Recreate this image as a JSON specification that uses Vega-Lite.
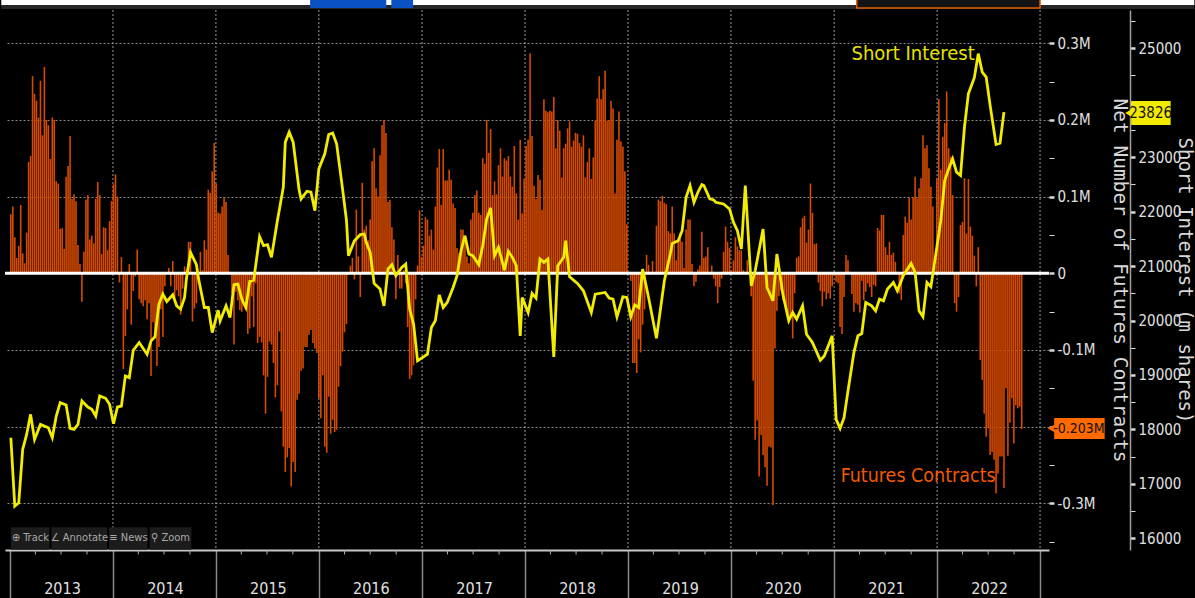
{
"$schema":"https://vega.github.io/schema/vega-lite/v6.json",
"width":1044,"height":540,
"autosize":{"type":"none"},
"padding":{"left":5,"top":10,"right":146,"bottom":48},
"background":"#000000",
"config":{"view":{"stroke":null},"font":"DejaVu Sans Condensed"},
"datasets":{
"fut":[{"d":"2013-01-04","f":0.077},{"d":"2013-01-11","f":0.087},{"d":"2013-01-18","f":0.047},{"d":"2013-01-25","f":0.02},{"d":"2013-02-01","f":0.036},{"d":"2013-02-08","f":0.089},{"d":"2013-02-15","f":0.026},{"d":"2013-02-22","f":0.013},{"d":"2013-03-01","f":0.053},{"d":"2013-03-08","f":0.145},{"d":"2013-03-15","f":0.153},{"d":"2013-03-22","f":0.257},{"d":"2013-03-29","f":0.234},{"d":"2013-04-05","f":0.225},{"d":"2013-04-12","f":0.203},{"d":"2013-04-19","f":0.251},{"d":"2013-04-26","f":0.18},{"d":"2013-05-03","f":0.269},{"d":"2013-05-10","f":0.2},{"d":"2013-05-17","f":0.193},{"d":"2013-05-24","f":0.149},{"d":"2013-05-31","f":0.203},{"d":"2013-06-07","f":0.2},{"d":"2013-06-14","f":0.12},{"d":"2013-06-21","f":0.117},{"d":"2013-06-28","f":0.058},{"d":"2013-07-05","f":0.059},{"d":"2013-07-12","f":0.032},{"d":"2013-07-19","f":0.126},{"d":"2013-07-26","f":0.14},{"d":"2013-08-02","f":0.179},{"d":"2013-08-09","f":0.097},{"d":"2013-08-16","f":0.103},{"d":"2013-08-23","f":0.094},{"d":"2013-08-30","f":0.037},{"d":"2013-09-06","f":0.012},{"d":"2013-09-13","f":-0.037},{"d":"2013-09-20","f":0.028},{"d":"2013-09-27","f":0.096},{"d":"2013-10-04","f":0.102},{"d":"2013-10-11","f":0.044},{"d":"2013-10-18","f":0.049},{"d":"2013-10-25","f":0.039},{"d":"2013-11-01","f":0.097},{"d":"2013-11-08","f":0.119},{"d":"2013-11-15","f":0.102},{"d":"2013-11-22","f":0.025},{"d":"2013-11-29","f":0.06},{"d":"2013-12-06","f":0.059},{"d":"2013-12-13","f":0.03},{"d":"2013-12-20","f":0.068},{"d":"2013-12-27","f":0.094},
{"d":"2014-01-03","f":0.116},{"d":"2014-01-10","f":0.129},{"d":"2014-01-17","f":0.1},{"d":"2014-01-24","f":-0.012},{"d":"2014-01-31","f":0.021},{"d":"2014-02-07","f":-0.125},{"d":"2014-02-14","f":-0.082},{"d":"2014-02-21","f":-0.047},{"d":"2014-02-28","f":0.012},{"d":"2014-03-07","f":-0.067},{"d":"2014-03-14","f":-0.023},{"d":"2014-03-21","f":-0.004},{"d":"2014-03-28","f":0.031},{"d":"2014-04-04","f":-0.034},{"d":"2014-04-11","f":-0.039},{"d":"2014-04-18","f":-0.043},{"d":"2014-04-25","f":-0.035},{"d":"2014-05-02","f":-0.06},{"d":"2014-05-09","f":-0.039},{"d":"2014-05-16","f":-0.134},{"d":"2014-05-23","f":-0.064},{"d":"2014-05-30","f":-0.078},{"d":"2014-06-06","f":-0.121},{"d":"2014-06-13","f":-0.096},{"d":"2014-06-20","f":-0.047},{"d":"2014-06-27","f":-0.083},{"d":"2014-07-04","f":-0.017},{"d":"2014-07-11","f":-0.001},{"d":"2014-07-18","f":0.007},{"d":"2014-07-25","f":-0.017},{"d":"2014-08-01","f":0.016},{"d":"2014-08-08","f":-0.033},{"d":"2014-08-15","f":-0.022},{"d":"2014-08-22","f":-0.03},{"d":"2014-08-29","f":-0.054},{"d":"2014-09-05","f":-0.02},{"d":"2014-09-12","f":0.009},{"d":"2014-09-19","f":0.005},{"d":"2014-09-26","f":0.041},{"d":"2014-10-03","f":0.041},{"d":"2014-10-10","f":-0.063},{"d":"2014-10-17","f":-0.046},{"d":"2014-10-24","f":-0.039},{"d":"2014-10-31","f":-0.013},{"d":"2014-11-07","f":0.028},{"d":"2014-11-14","f":0.004},{"d":"2014-11-21","f":0.043},{"d":"2014-11-28","f":0.031},{"d":"2014-12-05","f":0.109},{"d":"2014-12-12","f":0.105},{"d":"2014-12-19","f":0.133},{"d":"2014-12-26","f":0.17},
{"d":"2015-01-02","f":0.117},{"d":"2015-01-09","f":0.079},{"d":"2015-01-16","f":0.078},{"d":"2015-01-23","f":0.087},{"d":"2015-01-30","f":0.099},{"d":"2015-02-06","f":0.093},{"d":"2015-02-13","f":0.024},{"d":"2015-02-20","f":0.002},{"d":"2015-02-27","f":-0.026},{"d":"2015-03-06","f":-0.093},{"d":"2015-03-13","f":-0.024},{"d":"2015-03-20","f":-0.035},{"d":"2015-03-27","f":-0.048},{"d":"2015-04-03","f":-0.05},{"d":"2015-04-10","f":-0.035},{"d":"2015-04-17","f":-0.044},{"d":"2015-04-24","f":-0.079},{"d":"2015-05-01","f":-0.072},{"d":"2015-05-08","f":-0.03},{"d":"2015-05-15","f":-0.07},{"d":"2015-05-22","f":-0.013},{"d":"2015-05-29","f":-0.091},{"d":"2015-06-05","f":-0.083},{"d":"2015-06-12","f":-0.09},{"d":"2015-06-19","f":-0.133},{"d":"2015-06-26","f":-0.183},{"d":"2015-07-03","f":-0.135},{"d":"2015-07-10","f":-0.089},{"d":"2015-07-17","f":-0.093},{"d":"2015-07-24","f":-0.117},{"d":"2015-07-31","f":-0.162},{"d":"2015-08-07","f":-0.146},{"d":"2015-08-14","f":-0.076},{"d":"2015-08-21","f":-0.18},{"d":"2015-08-28","f":-0.226},{"d":"2015-09-04","f":-0.259},{"d":"2015-09-11","f":-0.24},{"d":"2015-09-18","f":-0.228},{"d":"2015-09-25","f":-0.278},{"d":"2015-10-02","f":-0.246},{"d":"2015-10-09","f":-0.259},{"d":"2015-10-16","f":-0.165},{"d":"2015-10-23","f":-0.157},{"d":"2015-10-30","f":-0.127},{"d":"2015-11-06","f":-0.124},{"d":"2015-11-13","f":-0.096},{"d":"2015-11-20","f":-0.096},{"d":"2015-11-27","f":-0.08},{"d":"2015-12-04","f":-0.074},{"d":"2015-12-11","f":-0.091},{"d":"2015-12-18","f":-0.098},{"d":"2015-12-25","f":-0.104},
{"d":"2016-01-01","f":-0.163},{"d":"2016-01-08","f":-0.189},{"d":"2016-01-15","f":-0.133},{"d":"2016-01-22","f":-0.226},{"d":"2016-01-29","f":-0.234},{"d":"2016-02-05","f":-0.161},{"d":"2016-02-12","f":-0.209},{"d":"2016-02-19","f":-0.191},{"d":"2016-02-26","f":-0.207},{"d":"2016-03-04","f":-0.204},{"d":"2016-03-11","f":-0.148},{"d":"2016-03-18","f":-0.121},{"d":"2016-03-25","f":-0.102},{"d":"2016-04-01","f":-0.077},{"d":"2016-04-08","f":-0.066},{"d":"2016-04-15","f":-0.002},{"d":"2016-04-22","f":0.01},{"d":"2016-04-29","f":0.02},{"d":"2016-05-06","f":-0.008},{"d":"2016-05-13","f":0.083},{"d":"2016-05-20","f":0.022},{"d":"2016-05-27","f":-0.031},{"d":"2016-06-03","f":0.118},{"d":"2016-06-10","f":0.057},{"d":"2016-06-17","f":0.062},{"d":"2016-06-24","f":0.043},{"d":"2016-07-01","f":0.07},{"d":"2016-07-08","f":0.146},{"d":"2016-07-15","f":0.163},{"d":"2016-07-22","f":0.111},{"d":"2016-07-29","f":0.1},{"d":"2016-08-05","f":0.154},{"d":"2016-08-12","f":0.193},{"d":"2016-08-19","f":0.2},{"d":"2016-08-26","f":0.183},{"d":"2016-09-02","f":0.093},{"d":"2016-09-09","f":0.096},{"d":"2016-09-16","f":0.06},{"d":"2016-09-23","f":0.044},{"d":"2016-09-30","f":-0.034},{"d":"2016-10-07","f":0.024},{"d":"2016-10-14","f":-0.02},{"d":"2016-10-21","f":-0.02},{"d":"2016-10-28","f":0.004},{"d":"2016-11-04","f":-0.013},{"d":"2016-11-11","f":-0.07},{"d":"2016-11-18","f":-0.138},{"d":"2016-11-25","f":-0.133},{"d":"2016-12-02","f":-0.12},{"d":"2016-12-09","f":-0.034},{"d":"2016-12-16","f":0.01},{"d":"2016-12-23","f":0.082},{"d":"2016-12-30","f":0.021},
{"d":"2017-01-06","f":0.036},{"d":"2017-01-13","f":0.073},{"d":"2017-01-20","f":0.07},{"d":"2017-01-27","f":0.049},{"d":"2017-02-03","f":0.057},{"d":"2017-02-10","f":0.031},{"d":"2017-02-17","f":0.087},{"d":"2017-02-24","f":0.138},{"d":"2017-03-03","f":0.162},{"d":"2017-03-10","f":0.089},{"d":"2017-03-17","f":0.162},{"d":"2017-03-24","f":0.121},{"d":"2017-03-31","f":0.121},{"d":"2017-04-07","f":0.135},{"d":"2017-04-14","f":0.122},{"d":"2017-04-21","f":0.091},{"d":"2017-04-28","f":0.085},{"d":"2017-05-05","f":0.033},{"d":"2017-05-12","f":0.026},{"d":"2017-05-19","f":0.057},{"d":"2017-05-26","f":0.057},{"d":"2017-06-02","f":0.04},{"d":"2017-06-09","f":0.022},{"d":"2017-06-16","f":0.013},{"d":"2017-06-23","f":0.07},{"d":"2017-06-30","f":0.079},{"d":"2017-07-07","f":0.102},{"d":"2017-07-14","f":0.108},{"d":"2017-07-21","f":0.079},{"d":"2017-07-28","f":0.076},{"d":"2017-08-04","f":0.15},{"d":"2017-08-11","f":0.143},{"d":"2017-08-18","f":0.2},{"d":"2017-08-25","f":0.157},{"d":"2017-09-01","f":0.188},{"d":"2017-09-08","f":0.102},{"d":"2017-09-15","f":0.12},{"d":"2017-09-22","f":0.103},{"d":"2017-09-29","f":0.141},{"d":"2017-10-06","f":0.163},{"d":"2017-10-13","f":0.126},{"d":"2017-10-20","f":0.15},{"d":"2017-10-27","f":0.147},{"d":"2017-11-03","f":0.153},{"d":"2017-11-10","f":0.126},{"d":"2017-11-17","f":0.113},{"d":"2017-11-24","f":0.166},{"d":"2017-12-01","f":0.104},{"d":"2017-12-08","f":0.07},{"d":"2017-12-15","f":0.174},{"d":"2017-12-22","f":0.078},{"d":"2017-12-29","f":0.123},
{"d":"2018-01-05","f":0.166},{"d":"2018-01-12","f":0.174},{"d":"2018-01-19","f":0.287},{"d":"2018-01-26","f":0.179},{"d":"2018-02-02","f":0.114},{"d":"2018-02-09","f":0.097},{"d":"2018-02-16","f":0.128},{"d":"2018-02-23","f":0.122},{"d":"2018-03-02","f":0.083},{"d":"2018-03-09","f":0.227},{"d":"2018-03-16","f":0.212},{"d":"2018-03-23","f":0.21},{"d":"2018-03-30","f":0.212},{"d":"2018-04-06","f":0.211},{"d":"2018-04-13","f":0.23},{"d":"2018-04-20","f":0.163},{"d":"2018-04-27","f":0.2},{"d":"2018-05-04","f":0.186},{"d":"2018-05-11","f":0.125},{"d":"2018-05-18","f":0.163},{"d":"2018-05-25","f":0.169},{"d":"2018-06-01","f":0.189},{"d":"2018-06-08","f":0.198},{"d":"2018-06-15","f":0.165},{"d":"2018-06-22","f":0.173},{"d":"2018-06-29","f":0.183},{"d":"2018-07-06","f":0.182},{"d":"2018-07-13","f":0.17},{"d":"2018-07-20","f":0.165},{"d":"2018-07-27","f":0.18},{"d":"2018-08-03","f":0.125},{"d":"2018-08-10","f":0.145},{"d":"2018-08-17","f":0.163},{"d":"2018-08-24","f":0.123},{"d":"2018-08-31","f":0.151},{"d":"2018-09-07","f":0.199},{"d":"2018-09-14","f":0.228},{"d":"2018-09-21","f":0.257},{"d":"2018-09-28","f":0.227},{"d":"2018-10-05","f":0.24},{"d":"2018-10-12","f":0.264},{"d":"2018-10-19","f":0.199},{"d":"2018-10-26","f":0.2},{"d":"2018-11-02","f":0.225},{"d":"2018-11-09","f":0.215},{"d":"2018-11-16","f":0.104},{"d":"2018-11-23","f":0.174},{"d":"2018-11-30","f":0.211},{"d":"2018-12-07","f":0.172},{"d":"2018-12-14","f":0.165},{"d":"2018-12-21","f":0.133},{"d":"2018-12-28","f":0.064},
{"d":"2019-01-04","f":0.002},{"d":"2019-01-11","f":-0.01},{"d":"2019-01-18","f":-0.117},{"d":"2019-01-25","f":-0.117},{"d":"2019-02-01","f":-0.13},{"d":"2019-02-08","f":-0.086},{"d":"2019-02-15","f":-0.103},{"d":"2019-02-22","f":-0.067},{"d":"2019-03-01","f":-0.047},{"d":"2019-03-08","f":0.024},{"d":"2019-03-15","f":0.011},{"d":"2019-03-22","f":0.002},{"d":"2019-03-29","f":0.016},{"d":"2019-04-05","f":0.002},{"d":"2019-04-12","f":0.062},{"d":"2019-04-19","f":0.096},{"d":"2019-04-26","f":0.094},{"d":"2019-05-03","f":0.101},{"d":"2019-05-10","f":0.092},{"d":"2019-05-17","f":0.09},{"d":"2019-05-24","f":0.055},{"d":"2019-05-31","f":0.052},{"d":"2019-06-07","f":0.087},{"d":"2019-06-14","f":0.052},{"d":"2019-06-21","f":0.017},{"d":"2019-06-28","f":0.043},{"d":"2019-07-05","f":0.053},{"d":"2019-07-12","f":0.041},{"d":"2019-07-19","f":0.007},{"d":"2019-07-26","f":0.057},{"d":"2019-08-02","f":0.07},{"d":"2019-08-09","f":0.07},{"d":"2019-08-16","f":0.012},{"d":"2019-08-23","f":-0.017},{"d":"2019-08-30","f":-0.011},{"d":"2019-09-06","f":0.005},{"d":"2019-09-13","f":0.01},{"d":"2019-09-20","f":0.054},{"d":"2019-09-27","f":0.02},{"d":"2019-10-04","f":0.022},{"d":"2019-10-11","f":0.034},{"d":"2019-10-18","f":0.002},{"d":"2019-10-25","f":0.01},{"d":"2019-11-01","f":-0.007},{"d":"2019-11-08","f":-0.017},{"d":"2019-11-15","f":-0.039},{"d":"2019-11-22","f":-0.018},{"d":"2019-11-29","f":-0.007},{"d":"2019-12-06","f":0.028},{"d":"2019-12-13","f":0.061},{"d":"2019-12-20","f":0.041},{"d":"2019-12-27","f":0.033},
{"d":"2020-01-03","f":0.004},{"d":"2020-01-10","f":0.017},{"d":"2020-01-17","f":0.047},{"d":"2020-01-24","f":0.035},{"d":"2020-01-31","f":0.03},{"d":"2020-02-07","f":0.03},{"d":"2020-02-14","f":0.004},{"d":"2020-02-21","f":0.002},{"d":"2020-02-28","f":0.017},{"d":"2020-03-06","f":0.002},{"d":"2020-03-13","f":-0.03},{"d":"2020-03-20","f":-0.14},{"d":"2020-03-27","f":-0.217},{"d":"2020-04-03","f":-0.192},{"d":"2020-04-10","f":-0.265},{"d":"2020-04-17","f":-0.211},{"d":"2020-04-24","f":-0.237},{"d":"2020-05-01","f":-0.253},{"d":"2020-05-08","f":-0.277},{"d":"2020-05-15","f":-0.226},{"d":"2020-05-22","f":-0.227},{"d":"2020-05-29","f":-0.302},{"d":"2020-06-05","f":-0.098},{"d":"2020-06-12","f":-0.049},{"d":"2020-06-19","f":-0.03},{"d":"2020-06-26","f":-0.022},{"d":"2020-07-03","f":-0.035},{"d":"2020-07-10","f":-0.039},{"d":"2020-07-17","f":-0.052},{"d":"2020-07-24","f":-0.065},{"d":"2020-07-31","f":-0.057},{"d":"2020-08-07","f":-0.085},{"d":"2020-08-14","f":-0.026},{"d":"2020-08-21","f":0.02},{"d":"2020-08-28","f":0.022},{"d":"2020-09-04","f":0.06},{"d":"2020-09-11","f":0.072},{"d":"2020-09-18","f":0.075},{"d":"2020-09-25","f":0.04},{"d":"2020-10-02","f":0.057},{"d":"2020-10-09","f":0.117},{"d":"2020-10-16","f":0.079},{"d":"2020-10-23","f":0.038},{"d":"2020-10-30","f":0.039},{"d":"2020-11-06","f":-0.012},{"d":"2020-11-13","f":-0.023},{"d":"2020-11-20","f":-0.043},{"d":"2020-11-27","f":-0.024},{"d":"2020-12-04","f":-0.034},{"d":"2020-12-11","f":-0.026},{"d":"2020-12-18","f":-0.033},{"d":"2020-12-25","f":-0.017},
{"d":"2021-01-01","f":-0.003},{"d":"2021-01-08","f":-0.011},{"d":"2021-01-15","f":-0.013},{"d":"2021-01-22","f":-0.07},{"d":"2021-01-29","f":-0.079},{"d":"2021-02-05","f":-0.031},{"d":"2021-02-12","f":0.024},{"d":"2021-02-19","f":0.017},{"d":"2021-02-26","f":0.002},{"d":"2021-03-05","f":-0.027},{"d":"2021-03-12","f":-0.05},{"d":"2021-03-19","f":-0.039},{"d":"2021-03-26","f":-0.041},{"d":"2021-04-02","f":-0.051},{"d":"2021-04-09","f":-0.01},{"d":"2021-04-16","f":-0.035},{"d":"2021-04-23","f":-0.024},{"d":"2021-04-30","f":-0.013},{"d":"2021-05-07","f":-0.018},{"d":"2021-05-14","f":-0.031},{"d":"2021-05-21","f":-0.015},{"d":"2021-05-28","f":-0.017},{"d":"2021-06-04","f":0.059},{"d":"2021-06-11","f":0.056},{"d":"2021-06-18","f":0.076},{"d":"2021-06-25","f":0.076},{"d":"2021-07-02","f":0.034},{"d":"2021-07-09","f":0.024},{"d":"2021-07-16","f":0.041},{"d":"2021-07-23","f":0.024},{"d":"2021-07-30","f":0.027},{"d":"2021-08-06","f":0.015},{"d":"2021-08-13","f":0.002},{"d":"2021-08-20","f":-0.026},{"d":"2021-08-27","f":-0.035},{"d":"2021-09-03","f":0.05},{"d":"2021-09-10","f":0.074},{"d":"2021-09-17","f":0.066},{"d":"2021-09-24","f":0.099},{"d":"2021-10-01","f":0.07},{"d":"2021-10-08","f":0.099},{"d":"2021-10-15","f":0.126},{"d":"2021-10-22","f":0.098},{"d":"2021-10-29","f":0.111},{"d":"2021-11-05","f":0.124},{"d":"2021-11-12","f":0.18},{"d":"2021-11-19","f":0.163},{"d":"2021-11-26","f":0.167},{"d":"2021-12-03","f":0.137},{"d":"2021-12-10","f":0.113},{"d":"2021-12-17","f":0.087},{"d":"2021-12-24","f":0.01},{"d":"2021-12-31","f":0.124},
{"d":"2022-01-07","f":0.227},{"d":"2022-01-14","f":0.135},{"d":"2022-01-21","f":0.178},{"d":"2022-01-28","f":0.196},{"d":"2022-02-04","f":0.237},{"d":"2022-02-11","f":0.163},{"d":"2022-02-18","f":0.152},{"d":"2022-02-25","f":0.102},{"d":"2022-03-04","f":-0.039},{"d":"2022-03-11","f":-0.05},{"d":"2022-03-18","f":-0.031},{"d":"2022-03-25","f":0.063},{"d":"2022-04-01","f":0.067},{"d":"2022-04-08","f":0.124},{"d":"2022-04-15","f":0.052},{"d":"2022-04-22","f":0.123},{"d":"2022-04-29","f":0.061},{"d":"2022-05-06","f":0.049},{"d":"2022-05-13","f":0.023},{"d":"2022-05-20","f":-0.017},{"d":"2022-05-27","f":0.034},{"d":"2022-06-03","f":-0.113},{"d":"2022-06-10","f":-0.139},{"d":"2022-06-17","f":-0.183},{"d":"2022-06-24","f":-0.213},{"d":"2022-07-01","f":-0.202},{"d":"2022-07-08","f":-0.237},{"d":"2022-07-15","f":-0.233},{"d":"2022-07-22","f":-0.243},{"d":"2022-07-29","f":-0.287},{"d":"2022-08-05","f":-0.261},{"d":"2022-08-12","f":-0.239},{"d":"2022-08-19","f":-0.239},{"d":"2022-08-26","f":-0.28},{"d":"2022-09-02","f":-0.15},{"d":"2022-09-09","f":-0.238},{"d":"2022-09-16","f":-0.195},{"d":"2022-09-23","f":-0.163},{"d":"2022-09-30","f":-0.222},{"d":"2022-10-07","f":-0.172},{"d":"2022-10-14","f":-0.176},{"d":"2022-10-21","f":-0.174},{"d":"2022-10-28","f":-0.203}],
"si":[{"d":"2013-01-04","s":17847},{"d":"2013-01-18","s":16589},{"d":"2013-02-01","s":16650},{"d":"2013-02-15","s":17632},{"d":"2013-03-01","s":17908},{"d":"2013-03-15","s":18276},{"d":"2013-03-29","s":17816},{"d":"2013-04-19","s":18092},{"d":"2013-05-17","s":18031},{"d":"2013-05-31","s":17847},{"d":"2013-06-14","s":18245},{"d":"2013-06-28","s":18491},{"d":"2013-07-19","s":18448},{"d":"2013-08-02","s":18018},{"d":"2013-08-16","s":18000},{"d":"2013-08-30","s":18092},{"d":"2013-09-13","s":18521},{"d":"2013-10-04","s":18411},{"d":"2013-10-18","s":18368},{"d":"2013-11-01","s":18245},{"d":"2013-11-15","s":18613},{"d":"2013-12-06","s":18571},{"d":"2013-12-20","s":18460},{"d":"2014-01-03","s":18104},{"d":"2014-01-17","s":18411},{"d":"2014-01-31","s":18429},{"d":"2014-02-14","s":18982},{"d":"2014-02-28","s":18951},{"d":"2014-03-14","s":19454},{"d":"2014-04-04","s":19595},{"d":"2014-05-02","s":19380},{"d":"2014-05-16","s":19626},{"d":"2014-05-30","s":19700},{"d":"2014-06-13","s":20301},{"d":"2014-06-27","s":20485},{"d":"2014-07-11","s":20350},{"d":"2014-08-01","s":20472},{"d":"2014-08-15","s":20270},{"d":"2014-08-29","s":20209},{"d":"2014-09-12","s":20423},{"d":"2014-09-19","s":20791},{"d":"2014-10-03","s":21252},{"d":"2014-10-24","s":21025},{"d":"2014-10-31","s":20779},{"d":"2014-11-21","s":20239},{"d":"2014-12-05","s":20239},{"d":"2014-12-19","s":19779},{"d":"2015-01-09","s":20190},{"d":"2015-01-16","s":19994},{"d":"2015-02-06","s":20270},{"d":"2015-02-20","s":20055},{"d":"2015-03-06","s":20656},{"d":"2015-03-20","s":20669},{"d":"2015-04-03","s":20393},{"d":"2015-04-17","s":20239},{"d":"2015-05-01","s":20718},{"d":"2015-05-15","s":20742},{"d":"2015-06-05","s":21540},{"d":"2015-06-19","s":21374},{"d":"2015-07-03","s":21393},{"d":"2015-07-17","s":21160},{"d":"2015-08-07","s":21834},{"d":"2015-08-28","s":22448},{"d":"2015-09-04","s":23276},{"d":"2015-09-18","s":23460},{"d":"2015-10-02","s":23276},{"d":"2015-10-23","s":22399},{"d":"2015-10-30","s":22233},{"d":"2015-11-20","s":22374},{"d":"2015-12-04","s":22356},{"d":"2015-12-18","s":22018},{"d":"2016-01-01","s":22785},{"d":"2016-01-22","s":23061},{"d":"2016-02-05","s":23417},{"d":"2016-02-19","s":23442},{"d":"2016-03-04","s":23245},{"d":"2016-03-25","s":22417},{"d":"2016-04-08","s":21834},{"d":"2016-04-15","s":21190},{"d":"2016-05-06","s":21466},{"d":"2016-05-27","s":21577},{"d":"2016-06-10","s":21589},{"d":"2016-06-17","s":21436},{"d":"2016-07-01","s":21252},{"d":"2016-07-15","s":20681},{"d":"2016-08-05","s":20577},{"d":"2016-08-19","s":20270},{"d":"2016-09-02","s":20945},{"d":"2016-09-16","s":21025},{"d":"2016-09-30","s":20822},{"d":"2016-10-21","s":20975},{"d":"2016-11-04","s":21037},{"d":"2016-11-18","s":20209},{"d":"2016-12-02","s":19933},{"d":"2016-12-16","s":19258},{"d":"2017-01-20","s":19380},{"d":"2017-02-03","s":19871},{"d":"2017-02-17","s":19994},{"d":"2017-03-03","s":20472},{"d":"2017-03-17","s":20239},{"d":"2017-03-31","s":20331},{"d":"2017-04-21","s":20607},{"d":"2017-05-05","s":20822},{"d":"2017-05-19","s":21282},{"d":"2017-06-02","s":21558},{"d":"2017-06-16","s":21221},{"d":"2017-06-30","s":21190},{"d":"2017-07-21","s":21025},{"d":"2017-08-04","s":21374},{"d":"2017-08-18","s":21865},{"d":"2017-09-01","s":22067},{"d":"2017-09-15","s":21190},{"d":"2017-09-29","s":21344},{"d":"2017-10-20","s":20926},{"d":"2017-11-03","s":21270},{"d":"2017-11-17","s":21160},{"d":"2017-12-01","s":21006},{"d":"2017-12-15","s":19718},{"d":"2017-12-22","s":20423},{"d":"2018-01-12","s":20147},{"d":"2018-01-26","s":20497},{"d":"2018-02-09","s":20411},{"d":"2018-02-23","s":21129},{"d":"2018-03-09","s":21067},{"d":"2018-03-23","s":21129},{"d":"2018-04-13","s":19331},{"d":"2018-04-27","s":21006},{"d":"2018-05-18","s":21160},{"d":"2018-05-25","s":21466},{"d":"2018-06-08","s":20804},{"d":"2018-07-06","s":20681},{"d":"2018-07-27","s":20546},{"d":"2018-08-24","s":20147},{"d":"2018-09-07","s":20485},{"d":"2018-10-12","s":20515},{"d":"2018-10-26","s":20411},{"d":"2018-11-09","s":20393},{"d":"2018-11-23","s":20067},{"d":"2018-12-14","s":20436},{"d":"2018-12-28","s":20423},{"d":"2019-01-11","s":20067},{"d":"2019-01-25","s":20288},{"d":"2019-02-08","s":20239},{"d":"2019-02-22","s":20945},{"d":"2019-03-15","s":20423},{"d":"2019-04-12","s":19675},{"d":"2019-05-10","s":20730},{"d":"2019-05-31","s":21221},{"d":"2019-06-07","s":21417},{"d":"2019-06-28","s":21466},{"d":"2019-07-12","s":21650},{"d":"2019-07-26","s":22264},{"d":"2019-08-09","s":22479},{"d":"2019-08-23","s":22172},{"d":"2019-09-06","s":22356},{"d":"2019-09-20","s":22497},{"d":"2019-09-27","s":22479},{"d":"2019-10-18","s":22233},{"d":"2019-11-01","s":22215},{"d":"2019-11-08","s":22172},{"d":"2019-12-06","s":22141},{"d":"2019-12-27","s":22049},{"d":"2020-01-10","s":21804},{"d":"2020-01-24","s":21650},{"d":"2020-02-07","s":21313},{"d":"2020-02-21","s":22479},{"d":"2020-03-13","s":20638},{"d":"2020-03-27","s":20914},{"d":"2020-04-24","s":21681},{"d":"2020-05-08","s":20607},{"d":"2020-05-29","s":20362},{"d":"2020-06-12","s":21221},{"d":"2020-07-03","s":20485},{"d":"2020-07-24","s":19994},{"d":"2020-08-07","s":20147},{"d":"2020-08-21","s":20025},{"d":"2020-09-11","s":20270},{"d":"2020-09-25","s":19748},{"d":"2020-10-16","s":19595},{"d":"2020-11-13","s":19270},{"d":"2020-11-27","s":19350},{"d":"2020-12-25","s":19718},{"d":"2021-01-08","s":18184},{"d":"2021-01-22","s":18018},{"d":"2021-02-05","s":18215},{"d":"2021-02-19","s":18706},{"d":"2021-03-12","s":19411},{"d":"2021-03-26","s":19718},{"d":"2021-04-09","s":19761},{"d":"2021-04-23","s":20331},{"d":"2021-05-14","s":20270},{"d":"2021-05-28","s":20178},{"d":"2021-06-11","s":20393},{"d":"2021-06-25","s":20362},{"d":"2021-07-09","s":20577},{"d":"2021-07-30","s":20699},{"d":"2021-08-13","s":20546},{"d":"2021-09-03","s":20822},{"d":"2021-10-01","s":21049},{"d":"2021-10-15","s":20883},{"d":"2021-10-29","s":20178},{"d":"2021-11-12","s":20067},{"d":"2021-11-26","s":20699},{"d":"2021-12-10","s":20620},{"d":"2021-12-24","s":21098},{"d":"2022-01-14","s":21834},{"d":"2022-01-28","s":22571},{"d":"2022-02-11","s":22785},{"d":"2022-02-25","s":22969},{"d":"2022-03-11","s":22724},{"d":"2022-03-25","s":22663},{"d":"2022-04-08","s":23552},{"d":"2022-04-22","s":24166},{"d":"2022-05-13","s":24460},{"d":"2022-05-27","s":24902},{"d":"2022-06-10","s":24564},{"d":"2022-06-24","s":24472},{"d":"2022-07-08","s":23951},{"d":"2022-07-29","s":23233},{"d":"2022-08-12","s":23258},{"d":"2022-08-26","s":23826}],
"qtr":[{"d":"2013-04-01"},{"d":"2013-07-01"},{"d":"2013-10-01"},{"d":"2014-04-01"},{"d":"2014-07-01"},{"d":"2014-10-01"},{"d":"2015-04-01"},{"d":"2015-07-01"},{"d":"2015-10-01"},{"d":"2016-04-01"},{"d":"2016-07-01"},{"d":"2016-10-01"},{"d":"2017-04-01"},{"d":"2017-07-01"},{"d":"2017-10-01"},{"d":"2018-04-01"},{"d":"2018-07-01"},{"d":"2018-10-01"},{"d":"2019-04-01"},{"d":"2019-07-01"},{"d":"2019-10-01"},{"d":"2020-04-01"},{"d":"2020-07-01"},{"d":"2020-10-01"},{"d":"2021-04-01"},{"d":"2021-07-01"},{"d":"2021-10-01"},{"d":"2022-04-01"},{"d":"2022-07-01"},{"d":"2022-10-01"}],
"yrs":[{"d":"2014-01-01"},{"d":"2015-01-01"},{"d":"2016-01-01"},{"d":"2017-01-01"},{"d":"2018-01-01"},{"d":"2019-01-01"},{"d":"2020-01-01"},{"d":"2021-01-01"},{"d":"2022-01-01"},{"d":"2023-01-01"}]
},
"layer":[
 {"data":{"values":[{"a":"2012-12-01","b":"2024-07-01","f1":0.3498,"f2":0.37}]},"mark":{"type":"rect","color":"#ffffff"},
  "encoding":{"x":{"field":"a","type":"temporal","scale":{"type":"utc","domain":[{"year":2013,"month":1,"date":1,"utc":true},{"year":2023,"month":1,"date":15,"utc":true}]}},"x2":{"field":"b"},
  "y":{"field":"f1","type":"quantitative","scale":{"domain":[-0.3608,0.3433],"nice":false,"zero":false},"axis":null},"y2":{"field":"f2"}}},
 {"data":{"values":[{"a":"2012-12-01","b":"2024-07-01","f1":0.3446,"f2":0.3498}]},"mark":{"type":"rect","color":"#262626"},
  "encoding":{"x":{"field":"a","type":"temporal","scale":{"type":"utc","domain":[{"year":2013,"month":1,"date":1,"utc":true},{"year":2023,"month":1,"date":15,"utc":true}]}},"x2":{"field":"b"},
  "y":{"field":"f1","type":"quantitative","scale":{"domain":[-0.3608,0.3433],"nice":false,"zero":false},"axis":null},"y2":{"field":"f2"}}},
 {"data":{"values":[{"a":"2015-12-01","b":"2016-08-27","f1":0.3459,"f2":0.37},{"a":"2016-09-14","b":"2016-11-30","f1":0.3459,"f2":0.37}]},"mark":{"type":"rect","color":"#0a52c4"},
  "encoding":{"x":{"field":"a","type":"temporal","scale":{"type":"utc","domain":[{"year":2013,"month":1,"date":1,"utc":true},{"year":2023,"month":1,"date":15,"utc":true}]}},"x2":{"field":"b"},
  "y":{"field":"f1","type":"quantitative","scale":{"domain":[-0.3608,0.3433],"nice":false,"zero":false},"axis":null},"y2":{"field":"f2"}}},
 {"data":{"values":[{"a":"2021-03-22","b":"2023-01-01","f1":0.3459,"f2":0.372}]},"mark":{"type":"rect","fill":"#141414","stroke":"#e06000","strokeWidth":1.5},
  "encoding":{"x":{"field":"a","type":"temporal","scale":{"type":"utc","domain":[{"year":2013,"month":1,"date":1,"utc":true},{"year":2023,"month":1,"date":15,"utc":true}]}},"x2":{"field":"b"},
  "y":{"field":"f1","type":"quantitative","scale":{"domain":[-0.3608,0.3433],"nice":false,"zero":false},"axis":null},"y2":{"field":"f2"}}},
 {"data":{"name":"yrs"},"mark":{"type":"rule","color":"#9a9a9a","strokeWidth":1,"strokeDash":[2,2]},
  "encoding":{"x":{"field":"d","type":"temporal","scale":{"type":"utc","domain":[{"year":2013,"month":1,"date":1,"utc":true},{"year":2023,"month":1,"date":15,"utc":true}]}}}},
 {"data":{"name":"fut"},"mark":{"type":"bar","size":1.6,"color":"#d64a00"},
  "encoding":{
   "x":{"field":"d","type":"temporal","scale":{"type":"utc","domain":[{"year":2013,"month":1,"date":1,"utc":true},{"year":2023,"month":1,"date":15,"utc":true}]},
    "axis":{"orient":"bottom","values":[{"year":2013,"month":1,"date":1,"utc":true},{"year":2014,"month":1,"date":1,"utc":true},{"year":2015,"month":1,"date":1,"utc":true},{"year":2016,"month":1,"date":1,"utc":true},{"year":2017,"month":1,"date":1,"utc":true},{"year":2018,"month":1,"date":1,"utc":true},{"year":2019,"month":1,"date":1,"utc":true},{"year":2020,"month":1,"date":1,"utc":true},{"year":2021,"month":1,"date":1,"utc":true},{"year":2022,"month":1,"date":1,"utc":true},{"year":2023,"month":1,"date":1,"utc":true}],
     "format":"%Y","labelExpr":"datum.label == '2023' ? '' : datum.label","labelOffset":52,"labelPadding":-10,"labelFontSize":16,"labelColor":"#e0e0e0","labelFont":"DejaVu Sans Condensed","labelBaseline":"middle","labelAlign":"center","labelFlush":false,"labelOverlap":false,"labelBound":false,
     "tickSize":48,"tickColor":"#8a8a8a","tickWidth":1.5,"domain":true,"domainColor":"#c8c8c8","domainWidth":2,"grid":false,"title":null}},
   "y":{"field":"f","type":"quantitative","scale":{"domain":[-0.3608,0.3433],"nice":false,"zero":false},
    "axis":{"orient":"right","values":[-0.35,-0.3,-0.25,-0.2,-0.15,-0.1,-0.05,0,0.05,0.1,0.15,0.2,0.25,0.3],
     "labelExpr":"round(datum.value*20) % 2 != 0 || round(datum.value*10) == -2 ? '' : (datum.value == 0 ? '0' : datum.value + 'M')",
     "labelFontSize":15,"labelColor":"#e0e0e0","labelFont":"DejaVu Sans Condensed","labelPadding":3,"labelBaseline":"middle","labelOverlap":false,"labelBound":false,"labelFlush":false,
     "tickSize":5,"tickColor":"#d8d8d8","tickWidth":{"condition":{"test":"round(datum.value*20) % 2 == 0","value":2.5},"value":1},
     "domain":false,"grid":true,"gridColor":"#8a8a8a","gridDash":[2,2],"gridOpacity":{"condition":{"test":"round(datum.value*20) % 2 == 0 && datum.value != 0","value":1},"value":0},
     "title":"Net Number of Futures Contracts","titleFont":"DejaVu Sans Mono","titleFontSize":19.5,"titleFontWeight":"normal","titleColor":"#d8d8d8","titleAngle":90,"titleX":70.5,"titleY":270,"titleAlign":"center","titleBaseline":"middle"}},
   "y2":{"datum":0}}},
 {"data":{"values":[{"f":0}]},"mark":{"type":"rule","color":"#ffffff","strokeWidth":3},
  "encoding":{"y":{"field":"f","type":"quantitative","scale":{"domain":[-0.3608,0.3433],"nice":false,"zero":false},"axis":null}}},
 {"data":{"name":"qtr"},"mark":{"type":"rule","color":"#b0b0b0","strokeWidth":1},
  "encoding":{"x":{"field":"d","type":"temporal","scale":{"type":"utc","domain":[{"year":2013,"month":1,"date":1,"utc":true},{"year":2023,"month":1,"date":15,"utc":true}]}},
  "y":{"datum":-0.3608,"type":"quantitative","scale":{"domain":[-0.3608,0.3433],"nice":false,"zero":false},"axis":null},"y2":{"datum":-0.3666}}},
 {"data":{"values":[{"a":"2013-01-04","b":"2013-05-21","f1":-0.331,"f2":-0.3605},{"a":"2013-05-28","b":"2013-12-11","f1":-0.331,"f2":-0.3605},{"a":"2013-12-18","b":"2014-05-04","f1":-0.331,"f2":-0.3605},{"a":"2014-05-11","b":"2014-10-06","f1":-0.331,"f2":-0.3605}]},"mark":{"type":"rect","color":"#1c1c1c"},
  "encoding":{"x":{"field":"a","type":"temporal","scale":{"type":"utc","domain":[{"year":2013,"month":1,"date":1,"utc":true},{"year":2023,"month":1,"date":15,"utc":true}]}},"x2":{"field":"b"},
  "y":{"field":"f1","type":"quantitative","scale":{"domain":[-0.3608,0.3433],"nice":false,"zero":false},"axis":null},"y2":{"field":"f2"}}},
 {"data":{"values":[{"d":"2013-03-14","f":-0.345,"t":"⊕ Track"},{"d":"2013-09-04","f":-0.345,"t":"∠ Annotate"},{"d":"2014-02-25","f":-0.345,"t":"≡ News"},{"d":"2014-07-24","f":-0.345,"t":"⚲ Zoom"}]},"mark":{"type":"text","color":"#a8a8a8","fontSize":11,"font":"DejaVu Sans Condensed","align":"center","baseline":"middle"},
  "encoding":{"x":{"field":"d","type":"temporal","scale":{"type":"utc","domain":[{"year":2013,"month":1,"date":1,"utc":true},{"year":2023,"month":1,"date":15,"utc":true}]}},
  "y":{"field":"f","type":"quantitative","scale":{"domain":[-0.3608,0.3433],"nice":false,"zero":false},"axis":null},"text":{"field":"t"}}},
 {"data":{"values":[{"d":"2021-10-26","f":-0.264,"t":"Futures Contracts"}]},"mark":{"type":"text","color":"#f25a00","fontSize":19.5,"font":"DejaVu Sans Condensed","align":"center","baseline":"middle"},
  "encoding":{"x":{"field":"d","type":"temporal","scale":{"type":"utc","domain":[{"year":2013,"month":1,"date":1,"utc":true},{"year":2023,"month":1,"date":15,"utc":true}]}},
  "y":{"field":"f","type":"quantitative","scale":{"domain":[-0.3608,0.3433],"nice":false,"zero":false},"axis":null},"text":{"field":"t"}}},
 {"data":{"values":[{"a":"2023-02-20","b":"2023-08-18","f1":-0.1887,"f2":-0.216}]},"mark":{"type":"rect","color":"#ff6a00"},
  "encoding":{"x":{"field":"a","type":"temporal","scale":{"type":"utc","domain":[{"year":2013,"month":1,"date":1,"utc":true},{"year":2023,"month":1,"date":15,"utc":true}]}},"x2":{"field":"b"},
  "y":{"field":"f1","type":"quantitative","scale":{"domain":[-0.3608,0.3433],"nice":false,"zero":false},"axis":null},"y2":{"field":"f2"}}},
 {"data":{"values":[{"d":"2023-02-14","f":-0.2025}]},"mark":{"type":"point","shape":"triangle-left","filled":true,"size":110,"color":"#ff6a00","opacity":1},
  "encoding":{"x":{"field":"d","type":"temporal","scale":{"type":"utc","domain":[{"year":2013,"month":1,"date":1,"utc":true},{"year":2023,"month":1,"date":15,"utc":true}]}},
  "y":{"field":"f","type":"quantitative","scale":{"domain":[-0.3608,0.3433],"nice":false,"zero":false},"axis":null}}},
 {"data":{"values":[{"d":"2023-05-19","f":-0.2025,"t":"-0.203M"}]},"mark":{"type":"text","color":"#111111","fontSize":14,"font":"DejaVu Sans Condensed","align":"center","baseline":"middle"},
  "encoding":{"x":{"field":"d","type":"temporal","scale":{"type":"utc","domain":[{"year":2013,"month":1,"date":1,"utc":true},{"year":2023,"month":1,"date":15,"utc":true}]}},
  "y":{"field":"f","type":"quantitative","scale":{"domain":[-0.3608,0.3433],"nice":false,"zero":false},"axis":null},"text":{"field":"t"}}},
 {"data":{"name":"si"},"mark":{"type":"line","color":"#f2ec00","strokeWidth":2.8},
  "encoding":{
   "x":{"field":"d","type":"temporal","scale":{"type":"utc","domain":[{"year":2013,"month":1,"date":1,"utc":true},{"year":2023,"month":1,"date":15,"utc":true}]}},
   "y":{"field":"s","type":"quantitative","scale":{"domain":[15785,25703],"nice":false,"zero":false},
    "axis":{"orient":"right","offset":81,"values":[16000,16500,17000,17500,18000,18500,19000,19500,20000,20500,21000,21500,22000,22500,23000,23500,24000,24500,25000,25500],
     "labelExpr":"datum.value % 1000 == 0 && datum.value != 24000 ? '' + datum.value : ''",
     "labelFontSize":15,"labelColor":"#e0e0e0","labelFont":"DejaVu Sans Condensed","labelPadding":3,"labelBaseline":"middle","labelOverlap":false,"labelBound":false,"labelFlush":false,
     "tickSize":5,"tickColor":"#d8d8d8","tickWidth":{"condition":{"test":"datum.value % 1000 == 0","value":2.5},"value":1},
     "domain":true,"domainColor":"#a0a0a0","domainWidth":1.5,"grid":false,
     "title":"Short Interest (m shares)","titleFont":"DejaVu Sans Mono","titleFontSize":19,"titleFontWeight":"normal","titleColor":"#d8d8d8","titleAngle":90,"titleX":54,"titleY":270,"titleAlign":"center","titleBaseline":"middle"}}}},
 {"data":{"values":[{"d":"2021-10-08","s":24895,"t":"Short Interest"}]},"mark":{"type":"text","color":"#e6e200","fontSize":20,"font":"DejaVu Sans Condensed","align":"center","baseline":"middle"},
  "encoding":{"x":{"field":"d","type":"temporal","scale":{"type":"utc","domain":[{"year":2013,"month":1,"date":1,"utc":true},{"year":2023,"month":1,"date":15,"utc":true}]}},
  "y":{"field":"s","type":"quantitative","scale":{"domain":[15785,25703],"nice":false,"zero":false},"axis":null},"text":{"field":"t"}}},
 {"data":{"values":[{"a":"2023-11-20","b":"2024-04-08","s1":24032,"s2":23591}]},"mark":{"type":"rect","color":"#f2ea00"},
  "encoding":{"x":{"field":"a","type":"temporal","scale":{"type":"utc","domain":[{"year":2013,"month":1,"date":1,"utc":true},{"year":2023,"month":1,"date":15,"utc":true}]}},"x2":{"field":"b"},
  "y":{"field":"s1","type":"quantitative","scale":{"domain":[15785,25703],"nice":false,"zero":false},"axis":null},"y2":{"field":"s2"}}},
 {"data":{"values":[{"d":"2023-11-14","s":23812}]},"mark":{"type":"point","shape":"triangle-left","filled":true,"size":100,"color":"#f2ea00","opacity":1},
  "encoding":{"x":{"field":"d","type":"temporal","scale":{"type":"utc","domain":[{"year":2013,"month":1,"date":1,"utc":true},{"year":2023,"month":1,"date":15,"utc":true}]}},
  "y":{"field":"s","type":"quantitative","scale":{"domain":[15785,25703],"nice":false,"zero":false},"axis":null}}},
 {"data":{"values":[{"d":"2024-01-28","s":23812,"t":"23826"}]},"mark":{"type":"text","color":"#111111","fontSize":15,"font":"DejaVu Sans Condensed","align":"center","baseline":"middle"},
  "encoding":{"x":{"field":"d","type":"temporal","scale":{"type":"utc","domain":[{"year":2013,"month":1,"date":1,"utc":true},{"year":2023,"month":1,"date":15,"utc":true}]}},
  "y":{"field":"s","type":"quantitative","scale":{"domain":[15785,25703],"nice":false,"zero":false},"axis":null},"text":{"field":"t"}}}
],
"resolve":{"scale":{"y":"independent"}}
}
